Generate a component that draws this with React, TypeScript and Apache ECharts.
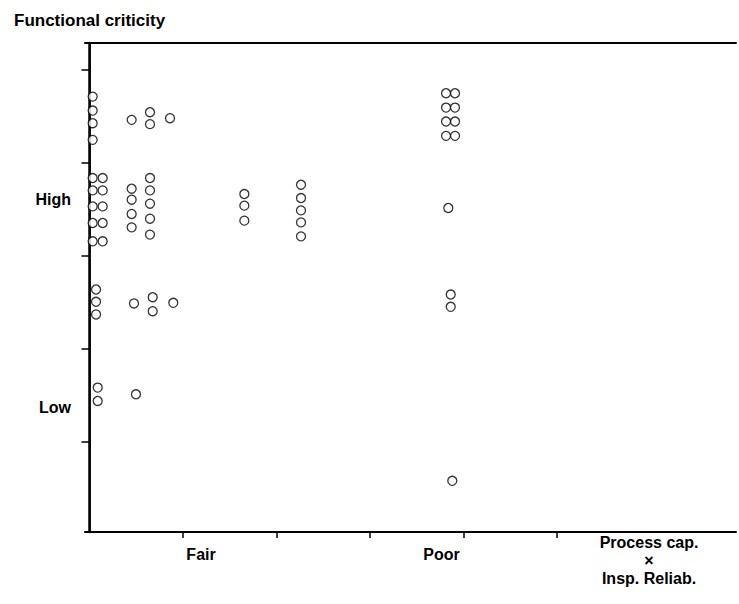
import React, { useEffect, useRef } from "react";
import * as echarts from "echarts";

const xTickValues = [1, 2, 3, 4, 5];
const yTickValues = [1, 2, 3, 4, 5];
const xLabelValues = [1.193, 3.765];
const xLabels = ["Fair", "Poor"];
const xFarLabelValues = [5.984];
const xFarLabels = ["Process cap.\n×\nInsp. Reliab."];
const yLabelValues = [1.375, 3.611];
const yLabels = ["Low", "High"];

// Points as [x, y]
const leftColumn = [
  [0.034, 4.714], [0.034, 4.564], [0.034, 4.428], [0.034, 4.249],
  [0.034, 3.839], [0.034, 3.706], [0.034, 3.534], [0.034, 3.356], [0.034, 3.159],
  [0.141, 3.839], [0.141, 3.706], [0.141, 3.534], [0.141, 3.356], [0.141, 3.159],
  [0.07, 2.641], [0.07, 2.509], [0.07, 2.373],
  [0.088, 1.587], [0.088, 1.443],
];
const secondColumn = [
  [0.451, 4.464],
  [0.451, 3.724], [0.451, 3.606], [0.451, 3.453], [0.451, 3.309],
  [0.476, 2.491],
  [0.497, 1.515],
];
const thirdColumn = [
  [0.647, 4.546], [0.647, 4.418],
  [0.647, 3.839], [0.647, 3.706], [0.647, 3.563], [0.647, 3.402], [0.647, 3.231],
  [0.676, 2.558], [0.676, 2.408],
];
const fourthColumn = [
  [0.861, 4.482],
  [0.896, 2.498],
];
const fairColumns = [
  [1.656, 3.667], [1.656, 3.542], [1.656, 3.381],
  [2.262, 3.767], [2.262, 3.624], [2.262, 3.491], [2.262, 3.362], [2.262, 3.212],
];
const poorColumn = [
  [3.813, 4.75], [3.813, 4.596], [3.813, 4.446], [3.813, 4.292],
  [3.909, 4.75], [3.909, 4.596], [3.909, 4.446], [3.909, 4.292],
  [3.837, 3.517],
  [3.863, 2.587], [3.863, 2.455],
  [3.88, 0.585],
];

const FONT = "'Liberation Sans', Arial, sans-serif";
const X_MIN = -0.048;
const X_MAX = 6.914;
const Y_MIN = 0.035;
const Y_MAX = 5.29;

function pick(values: number[], labels: string[], v: number) {
  for (let i = 0; i < values.length; i++) {
    if (Math.abs(values[i] - v) < 1e-6) return labels[i];
  }
  return "";
}

const labelFont = {
  fontFamily: FONT,
  fontSize: 16,
  fontWeight: "bold",
  color: "#000",
};

export default function App() {
  const ref = useRef<HTMLDivElement>(null);
  useEffect(() => {
    if (!ref.current) return;
    const chart = echarts.init(ref.current, undefined, { renderer: "svg" });
    const data = [
      ...leftColumn,
      ...secondColumn,
      ...thirdColumn,
      ...fourthColumn,
      ...fairColumns,
      ...poorColumn,
    ];
    chart.setOption({
      animation: false,
      backgroundColor: "#fff",
      title: {
        text: "Functional criticity",
        left: 9,
        top: 7,
        textStyle: { fontFamily: FONT, fontSize: 17, fontWeight: "bold", color: "#000" },
      },
      grid: {
        left: 85,
        right: 3,
        top: 43,
        bottom: 72,
        show: false,
        outerBoundsMode: "none",
        containLabel: false,
      },
      xAxis: [
        {
          type: "value",
          position: "bottom",
          min: X_MIN,
          max: X_MAX,
          axisLine: { show: true, lineStyle: { color: "#000", width: 2 } },
          axisTick: {
            show: true,
            inside: false,
            length: 6,
            customValues: xTickValues,
            lineStyle: { color: "#000", width: 1.5 },
          },
          splitLine: { show: false },
          axisLabel: {
            ...labelFont,
            customValues: xLabelValues,
            formatter: (v: number) => pick(xLabelValues, xLabels, v),
            margin: 14,
            align: "center",
          },
        },
        {
          type: "value",
          position: "bottom",
          min: X_MIN,
          max: X_MAX,
          axisLine: { show: false },
          axisTick: { show: false },
          splitLine: { show: false },
          axisLabel: {
            ...labelFont,
            customValues: xFarLabelValues,
            formatter: (v: number) => pick(xFarLabelValues, xFarLabels, v),
            margin: 1,
            lineHeight: 18,
            align: "center",
          },
        },
        {
          type: "value",
          position: "top",
          min: X_MIN,
          max: X_MAX,
          axisLine: { show: true, lineStyle: { color: "#000", width: 2 } },
          axisTick: { show: false },
          axisLabel: { show: false },
          splitLine: { show: false },
        },
      ],
      yAxis: [
        {
          type: "value",
          position: "left",
          min: Y_MIN,
          max: Y_MAX,
          axisLine: { show: true, lineStyle: { color: "#000", width: 2.5 } },
          axisTick: {
            show: true,
            inside: false,
            length: 8,
            customValues: yTickValues,
            lineStyle: { color: "#000", width: 1.5 },
          },
          splitLine: { show: false },
          axisLabel: {
            ...labelFont,
            customValues: yLabelValues,
            formatter: (v: number) => pick(yLabelValues, yLabels, v),
            margin: 14,
            align: "right",
          },
        },
        {
          type: "value",
          position: "right",
          min: Y_MIN,
          max: Y_MAX,
          axisLine: { show: true, lineStyle: { color: "#000", width: 1.5 } },
          axisTick: { show: false },
          axisLabel: { show: false },
          splitLine: { show: false },
        },
      ],
      series: [
        {
          type: "scatter",
          xAxisIndex: 0,
          yAxisIndex: 0,
          symbol: "circle",
          symbolSize: 9,
          itemStyle: { color: "#fff", borderColor: "#000", borderWidth: 1.3 },
          data,
        },
      ],
    });
    return () => chart.dispose();
  }, []);
  return (
    <div
      ref={ref}
      style={{ position: "fixed", left: 0, top: 0, width: 739, height: 604 }}
    />
  );
}
